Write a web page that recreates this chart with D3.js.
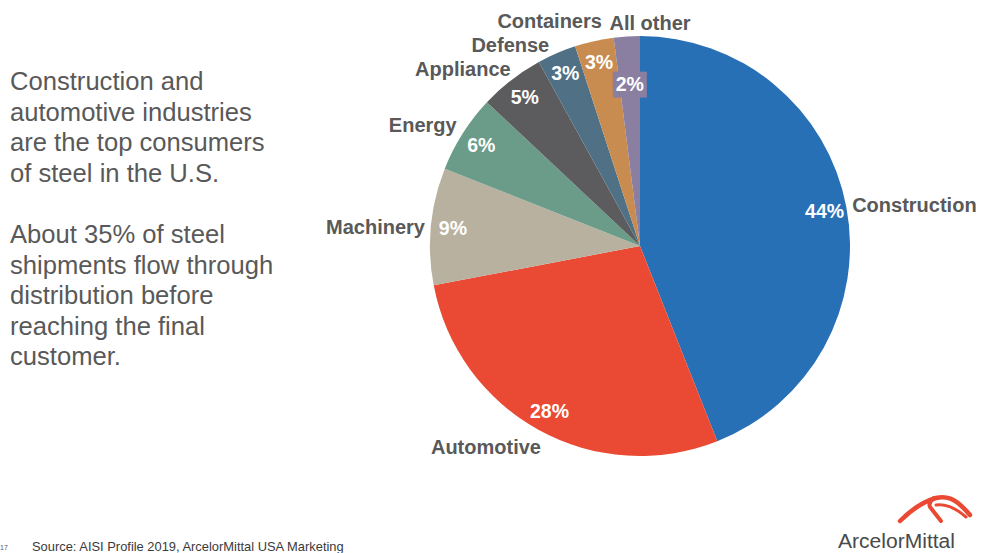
<!DOCTYPE html>
<html>
<head>
<meta charset="utf-8">
<script src="https://cdn.jsdelivr.net/npm/d3@7"></script>
<style>
  html, body { margin: 0; padding: 0; background: #ffffff; }
  svg { display: block; font-family: "Liberation Sans", Arial, sans-serif; }
</style>
</head>
<body>
<svg id="chart" width="981" height="553"></svg>
<script>
// U.S. steel consumption by end market (share of shipments, %)
const categories = ["Construction", "Automotive", "Machinery", "Energy", "Appliance", "Defense", "Containers", "All other"];
const shares = [44, 28, 9, 6, 5, 3, 3, 2];
const sliceColors = ["#2870b5", "#ea4a33", "#b8b19f", "#6b9b89", "#5c5c5f", "#4f7085", "#c88b50", "#8a7ea1"];

const bodyParagraphs = [
  ["Construction and", "automotive industries", "are the top consumers", "of steel in the U.S."],
  ["About 35% of steel", "shipments flow through", "distribution before", "reaching the final", "customer."]
];
const sourceNote = "Source: AISI Profile 2019, ArcelorMittal USA Marketing";
const pageNumber = "17";
const brandName = "ArcelorMittal";

// Fine placement of the outside category labels (dx, dy, anchor override)
const outerLabelTweak = {
  "Construction": { dx: 0, dy: -1 },
  "Automotive":   { dx: 5, dy: 12 },
  "Machinery":    { dx: 0, dy: 1 },
  "Energy":       { dx: -1, dy: -5 },
  "Appliance":    { dx: 3, dy: -6 },
  "Defense":      { dx: -5, dy: -3 },
  "Containers":   { dx: 9, dy: -14 },
  "All other":    { dx: -17, dy: -7, anchor: "start" }
};
// Radius (fraction of pie radius) used for the percentage labels
const innerLabelRadius = { "All other": 0.77 };

const svg = d3.select("#chart");
const textGray = "#595959";

// Left-hand narrative text
const para = svg.append("g").attr("fill", textGray).attr("font-size", 25.6);
const paraTops = [90, 243];
bodyParagraphs.forEach((lines, p) => {
  para.selectAll(null).data(lines).join("text")
    .attr("x", 10)
    .attr("y", (d, i) => paraTops[p] + i * 30.6)
    .text(d => d);
});

// Pie
const cx = 640, cy = 246, R = 210;
const data = categories.map((c, i) => ({ category: c, value: shares[i], color: sliceColors[i] }));
const pie = d3.pie().value(d => d.value).sort(null);
const arcs = pie(data);
const arc = d3.arc().innerRadius(0).outerRadius(R);

const g = svg.append("g").attr("transform", `translate(${cx},${cy})`);
g.selectAll("path.slice").data(arcs).join("path")
  .attr("class", "slice")
  .attr("d", arc)
  .attr("fill", d => d.data.color);

const midAngle = d => (d.startAngle + d.endAngle) / 2;

// Percentage labels inside the slices
const pctG = g.append("g");
arcs.forEach(d => {
  const k = innerLabelRadius[d.data.category] || 0.895;
  const la = d3.arc().innerRadius(R * k).outerRadius(R * k);
  const [x, y] = la.centroid(d);
  if (innerLabelRadius[d.data.category]) {
    pctG.append("rect")
      .attr("x", x - 17).attr("y", y - 13)
      .attr("width", 34).attr("height", 26)
      .attr("fill", d.data.color);
  }
  pctG.append("text")
    .attr("x", x).attr("y", y)
    .attr("dy", "0.35em")
    .attr("text-anchor", "middle")
    .attr("fill", "#ffffff")
    .attr("font-weight", "bold")
    .attr("font-size", 19.5)
    .text(d.data.value + "%");
});

// Category labels outside the pie
const outer = d3.arc().innerRadius(R + 6).outerRadius(R + 6);
g.append("g").selectAll("text").data(arcs).join("text")
  .each(function(d) {
    const [x, y] = outer.centroid(d);
    const t = outerLabelTweak[d.data.category] || { dx: 0, dy: 0 };
    const anchor = t.anchor || (Math.sin(midAngle(d)) >= 0 ? "start" : "end");
    d3.select(this)
      .attr("x", x + t.dx).attr("y", y + t.dy)
      .attr("dy", "0.35em")
      .attr("text-anchor", anchor);
  })
  .attr("fill", textGray)
  .attr("font-weight", "bold")
  .attr("font-size", 20)
  .text(d => d.data.category);

// Footer: page number and source
svg.append("text").attr("x", 0).attr("y", 550)
  .attr("font-size", 7).attr("fill", textGray).text(pageNumber);
svg.append("text").attr("x", 32).attr("y", 551)
  .attr("font-size", 12.9).attr("fill", "#3a3a3a").text(sourceNote);

// Brand mark
const logo = svg.append("g");
logo.append("path")
  .attr("d", "M900,521 Q918,503 936,498 Q948,495 958,503 Q965,509 970,515")
  .attr("fill", "none").attr("stroke", "#ea4a33").attr("stroke-width", 4.5).attr("stroke-linecap", "round");
logo.append("path")
  .attr("d", "M934,498 Q928,502 930,507 L941,521")
  .attr("fill", "none").attr("stroke", "#ea4a33").attr("stroke-width", 4).attr("stroke-linecap", "round");
logo.append("path")
  .attr("d", "M936,505 Q950,503 966,517")
  .attr("fill", "none").attr("stroke", "#ea4a33").attr("stroke-width", 3).attr("stroke-linecap", "round");
logo.append("text").attr("x", 838).attr("y", 548)
  .attr("font-size", 20).attr("fill", "#4a4a4a").attr("textLength", 117)
  .attr("lengthAdjust", "spacingAndGlyphs").text(brandName);
</script>
</body>
</html>
